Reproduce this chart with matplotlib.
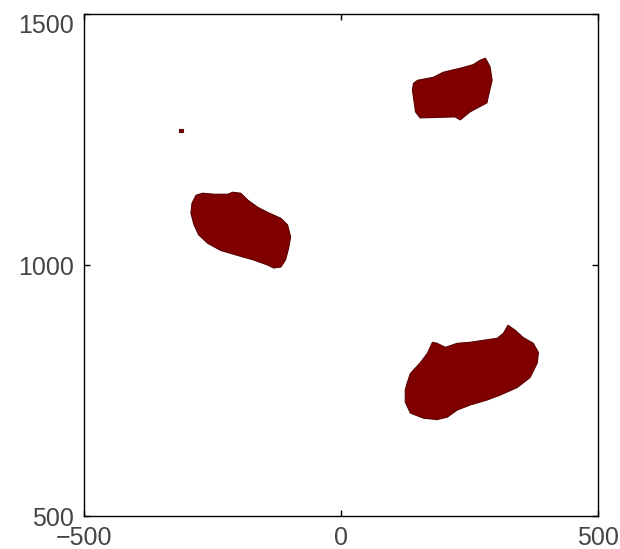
import matplotlib
matplotlib.use("Agg")
import matplotlib.pyplot as plt

# outline of each region (data coords)
blob1_x = [281, 290, 294, 286, 284, 251, 232, 222, 154, 145, 139, 141, 149, 180, 199, 232, 257, 271]
blob1_y = [1412, 1395, 1368, 1333, 1323, 1305, 1289, 1295, 1293, 1305, 1348, 1362, 1368, 1374, 1384, 1392, 1399, 1408]

blob2_x = [-282, -269, -247, -220, -211, -195, -181, -162, -143, -117, -104, -98, -102, -108, -117,
           -131, -143, -170, -201, -234, -259, -277, -286, -292, -290]
blob2_y = [1139, 1143, 1141, 1141, 1145, 1143, 1129, 1115, 1105, 1093, 1080, 1056, 1033, 1010, 996,
           994, 1000, 1010, 1019, 1029, 1043, 1060, 1080, 1103, 1123]

blob3_x = [129, 135, 154, 168, 178, 187, 203, 226, 251, 277, 304, 316, 325, 339, 354, 374, 384, 382,
           368, 343, 310, 284, 251, 226, 207, 187, 160, 135, 125, 125]
blob3_y = [766, 784, 805, 824, 846, 844, 836, 844, 846, 850, 854, 864, 880, 870, 856, 844, 826, 805,
           776, 756, 741, 731, 721, 711, 697, 692, 695, 705, 727, 751]

speck_x = [-316, -308, -308, -316]
speck_y = [1264, 1264, 1271, 1271]

xticks = [-500, 0, 500]
yticks = [500, 1000, 1500]

plt.rcParams['font.family'] = ['Liberation Sans', 'DejaVu Sans']

fig = plt.figure(figsize=(6.2, 5.49), dpi=100)
ax = fig.add_axes([0.1355, 0.0601, 0.8290, 0.9144])

color = '#800000'
for bx, by in [(blob1_x, blob1_y), (blob2_x, blob2_y), (blob3_x, blob3_y), (speck_x, speck_y)]:
    ax.fill(bx, by, color=color, edgecolor='#5a0000', linewidth=0.8)

ax.set_xlim(-500, 500)
ax.set_ylim(500, 1500)
ax.set_xticks(xticks)
ax.set_yticks(yticks)
ax.tick_params(direction='in', length=4, width=1, top=True, right=True,
               labelsize=18, labelcolor='#454545', pad=7)
ax.get_yticklabels()[-1].set_verticalalignment('top')
for s in ax.spines.values():
    s.set_linewidth(1.0)

fig.savefig('out.png', dpi=100)
